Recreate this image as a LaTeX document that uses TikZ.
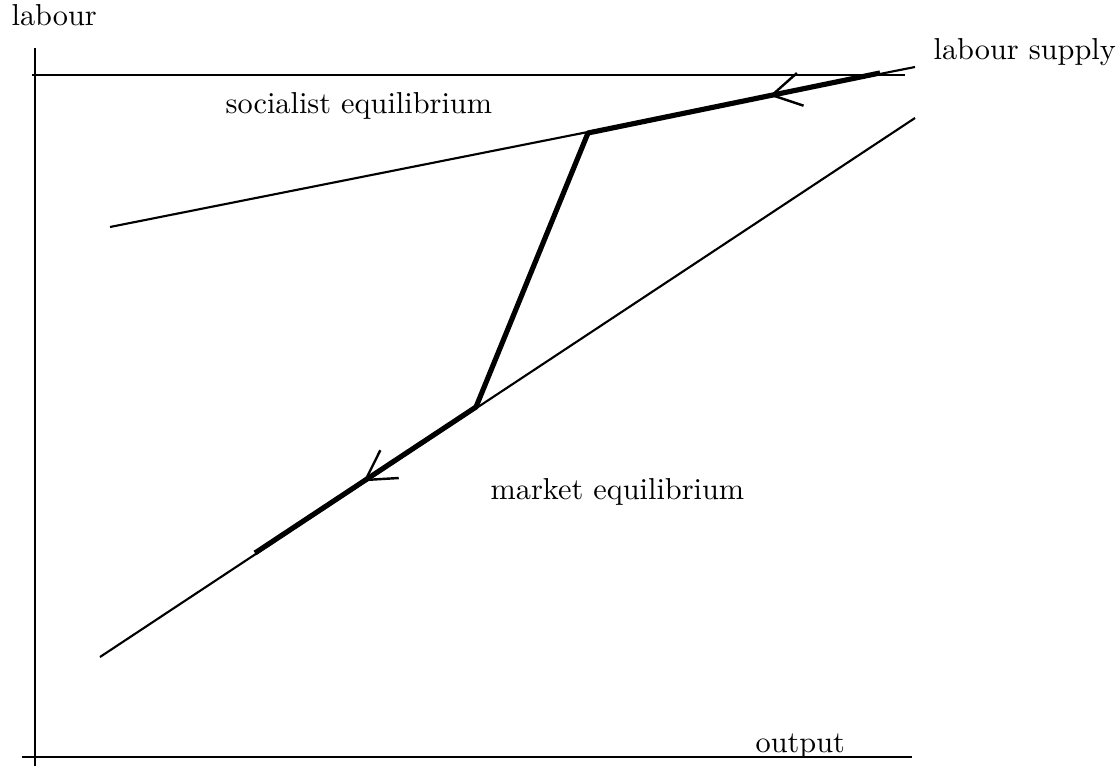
\documentclass[tikz,border=0pt]{standalone}
\usetikzlibrary{decorations.markings}
\begin{document}
\begin{tikzpicture}[x=0.33pt,y=-0.33pt,
  thinline/.style={line width=0.7pt},
  thickline/.style={line width=1.7pt, line join=round},
  lbl/.style={inner sep=0pt, anchor=base west, font=\fontsize{10}{12}\selectfont},
  barbs/.style={postaction={decorate}, decoration={markings,
    mark=at position #1 with {\draw[line width=0.8pt] (-9.5pt,5.5pt) -- (0,0) -- (-9.5pt,-5.5pt);}}}]
\useasboundingbox (0,0) rectangle (1118,768);
% axes
\coordinate (yTop) at (35,48);
\coordinate (yBot) at (35,766);
\coordinate (xL) at (22,757);
\coordinate (xR) at (912,757);
\coordinate (tL) at (32,75);
\coordinate (tR) at (905,75);
\draw[thinline] (yTop) -- (yBot);
\draw[thinline] (xL) -- (xR);
\draw[thinline] (tL) -- (tR);
% supply lines
\coordinate (sA) at (110,227);
\coordinate (sB) at (915,67);
\coordinate (mA) at (100,657);
\coordinate (mB) at (915,118);
\draw[thinline] (sA) -- (sB);
\draw[thinline] (mA) -- (mB);
% thick path
\coordinate (p0) at (880,73);
\coordinate (p1) at (588,133);
\coordinate (p2) at (476,407);
\coordinate (p3) at (255,553);
\draw[thickline] (p0) -- (p1) -- (p2) -- (p3);
\path[barbs=0.37] (p0) -- (p1);
\path[barbs=0.50] (p2) -- (p3);
% labels
\node[lbl] (lab) at (11,26) {labour};
\node[lbl] (ls) at (933,60) {labour supply};
\node[lbl] (se) at (225,114) {socialist equilibrium};
\node[lbl] (me) at (490,500) {market equilibrium};
\node[lbl] (out) at (755,752) {output};
\end{tikzpicture}
\end{document}
